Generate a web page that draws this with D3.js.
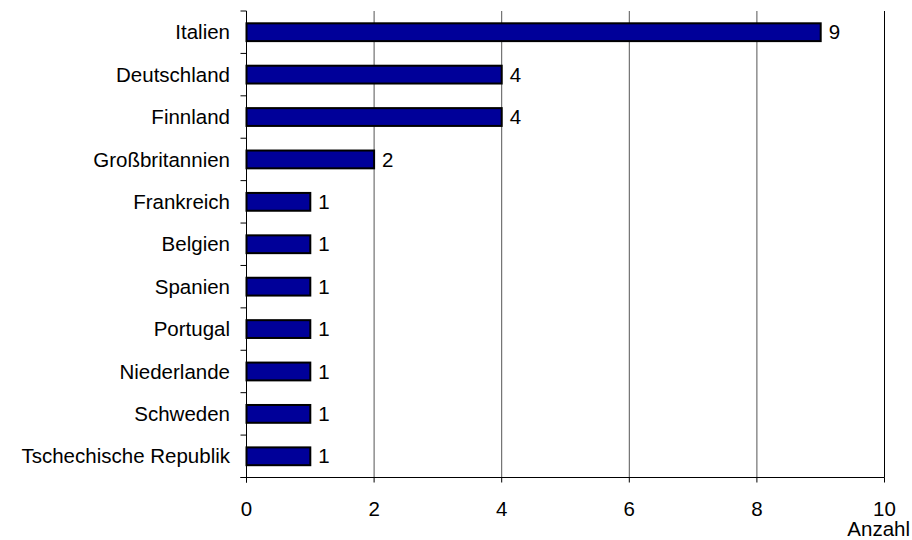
<!DOCTYPE html>
<html>
<head>
<meta charset="utf-8">
<script src="https://cdn.jsdelivr.net/npm/d3@7"></script>
<style>
  html, body { margin: 0; padding: 0; background: #fff; }
  svg text { font-family: "Liberation Sans", Arial, sans-serif; fill: #000; }
</style>
</head>
<body>
<svg id="chart" width="912" height="540"></svg>
<script>
// Anzahl je Land
const countries = ["Italien", "Deutschland", "Finnland", "Großbritannien", "Frankreich",
  "Belgien", "Spanien", "Portugal", "Niederlande", "Schweden", "Tschechische Republik"];
const counts = [9, 4, 4, 2, 1, 1, 1, 1, 1, 1, 1];
const xTicks = [0, 2, 4, 6, 8, 10];
const axisTitle = "Anzahl";

const svg = d3.select("#chart");
const plotLeft = 246.5, plotRight = 884.5, plotTop = 11, plotBottom = 477.5;
const fontSize = 20.5;

const x = d3.scaleLinear().domain([0, 10]).range([plotLeft, plotRight]);
const y = d3.scaleBand().domain(countries).range([plotTop, plotBottom]).paddingInner(0.58).paddingOuter(0.29);
const band = d3.scaleBand().domain(countries).range([plotTop, plotBottom]);

// vertical gridlines
svg.append("g").selectAll("line").data(xTicks.filter(t => t > 0 && t < 10)).join("line")
  .attr("x1", d => x(d)).attr("x2", d => x(d))
  .attr("y1", plotTop).attr("y2", plotBottom)
  .attr("stroke", "#555").attr("stroke-width", 1);

// right frame line
svg.append("line").attr("x1", x(10)).attr("x2", x(10)).attr("y1", plotTop).attr("y2", plotBottom)
  .attr("stroke", "#000").attr("stroke-width", 1);

// bars
svg.append("g").selectAll("rect").data(countries).join("rect")
  .attr("x", x(0))
  .attr("y", d => y(d))
  .attr("width", (d, i) => x(counts[i]) - x(0))
  .attr("height", y.bandwidth())
  .attr("fill", "#000099")
  .attr("stroke", "#000")
  .attr("stroke-width", 2);

// value labels
svg.append("g").selectAll("text").data(countries).join("text")
  .attr("x", (d, i) => x(counts[i]) + 8)
  .attr("y", d => y(d) + y.bandwidth() / 2)
  .attr("dy", "0.35em")
  .attr("font-size", fontSize)
  .text((d, i) => counts[i]);

// left category axis
const yAxis = svg.append("g");
yAxis.append("line").attr("x1", plotLeft).attr("x2", plotLeft).attr("y1", plotTop).attr("y2", plotBottom + 5)
  .attr("stroke", "#000");
const tickYs = countries.map(c => band(c)).concat([plotBottom]);
yAxis.selectAll("line.tk").data(tickYs).join("line").attr("class", "tk")
  .attr("x1", plotLeft - 6).attr("x2", plotLeft).attr("y1", d => d).attr("y2", d => d)
  .attr("stroke", "#000");
yAxis.selectAll("text").data(countries).join("text")
  .attr("x", 230)
  .attr("y", d => band(d) + band.bandwidth() / 2)
  .attr("dy", "0.35em")
  .attr("text-anchor", "end")
  .attr("font-size", fontSize)
  .text(d => d);

// bottom value axis
const xAxis = svg.append("g");
xAxis.append("line").attr("x1", plotLeft - 6).attr("x2", plotRight).attr("y1", plotBottom).attr("y2", plotBottom)
  .attr("stroke", "#000");
xAxis.selectAll("line.tk").data(xTicks).join("line").attr("class", "tk")
  .attr("x1", d => x(d)).attr("x2", d => x(d)).attr("y1", plotBottom).attr("y2", plotBottom + 5)
  .attr("stroke", "#000");
xAxis.selectAll("text").data(xTicks).join("text")
  .attr("x", d => x(d))
  .attr("y", 516)
  .attr("text-anchor", "middle")
  .attr("font-size", fontSize)
  .text(d => d);

svg.append("text").attr("x", 910).attr("y", 536).attr("text-anchor", "end")
  .attr("font-size", fontSize).text(axisTitle);
</script>
</body>
</html>
